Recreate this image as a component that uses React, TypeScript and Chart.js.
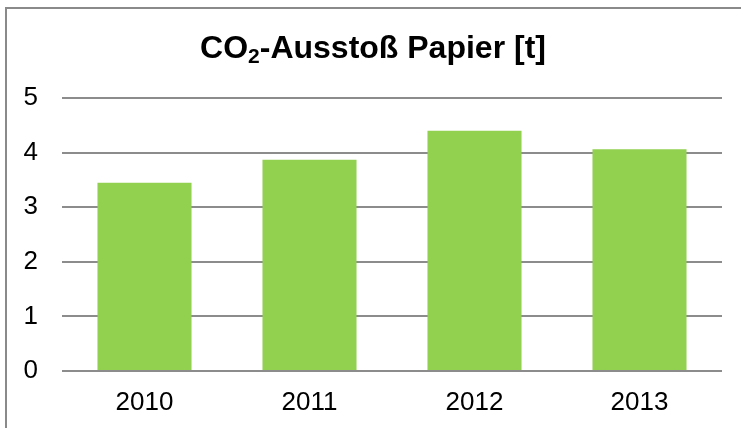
import React, { useEffect, useRef } from "react";
import { Chart, registerables } from "chart.js";

Chart.register(...registerables);

const categories = ["2010", "2011", "2012", "2013"];
const values = [3.45, 3.87, 4.4, 4.06];
const yTicks = [0, 1, 2, 3, 4, 5];
const titleMain = "CO";
const titleSub = "2";
const titleRest = "-Ausstoß Papier [t]";

const FONT = "'Liberation Sans', Arial, sans-serif";

const titlePlugin = {
  id: "subTitle",
  afterDraw(chart: any) {
    const ctx = chart.ctx as CanvasRenderingContext2D;
    ctx.save();
    const big = `bold 32px ${FONT}`;
    const small = `bold 21px ${FONT}`;
    ctx.font = big;
    const w1 = ctx.measureText(titleMain).width;
    const w3 = ctx.measureText(titleRest).width;
    ctx.font = small;
    const w2 = ctx.measureText(titleSub).width;
    const total = w1 + w2 + w3;
    let x = 373 - total / 2;
    const baseY = 58;
    ctx.fillStyle = "#000";
    ctx.textBaseline = "alphabetic";
    ctx.textAlign = "left";
    ctx.font = big;
    ctx.fillText(titleMain, x, baseY);
    x += w1;
    ctx.font = small;
    ctx.fillText(titleSub, x, baseY + 5);
    x += w2;
    ctx.font = big;
    ctx.fillText(titleRest, x, baseY);
    ctx.restore();
  },
};

export default function App() {
  const ref = useRef<HTMLCanvasElement | null>(null);
  useEffect(() => {
    if (!ref.current) return;
    const chart = new Chart(ref.current, {
      type: "bar",
      data: {
        labels: categories,
        datasets: [
          {
            data: values,
            backgroundColor: "#92D050",
            borderWidth: 0,
            categoryPercentage: 1,
            barPercentage: 0.57,
          },
        ],
      },
      options: {
        animation: false,
        responsive: false,
        maintainAspectRatio: false,
        layout: { padding: { top: 98, right: 19, bottom: 0, left: 0 } },
        plugins: {
          legend: { display: false },
          title: { display: false },
          tooltip: { enabled: false },
        },
        scales: {
          x: {
            grid: { display: false, drawTicks: false },
            border: { display: false },
            ticks: {
              color: "#000",
              font: { family: FONT, size: 26 },
              padding: 16,
              maxRotation: 0,
            },
            afterFit(scale: any) {
              scale.height = 57;
            },
          },
          y: {
            min: 0,
            max: 5,
            afterBuildTicks(scale: any) {
              scale.ticks = yTicks.map((v) => ({ value: v }));
            },
            grid: { color: "#8c8c8c", lineWidth: 2, drawTicks: false },
            border: { display: false },
            ticks: {
              color: "#000",
              font: { family: FONT, size: 26 },
              padding: 24,
            },
            afterFit(scale: any) {
              scale.width = 62;
            },
          },
        },
      },
      plugins: [titlePlugin],
    });
    return () => chart.destroy();
  }, []);

  return (
    <div style={{ position: "fixed", left: 0, top: 0, width: 741, height: 428, background: "#fff", overflow: "hidden" }}>
      <div
        style={{
          position: "absolute",
          left: 5,
          top: 7,
          width: 800,
          height: 500,
          borderLeft: "2px solid #8a8a8a",
          borderTop: "2px solid #8a8a8a",
          boxSizing: "border-box",
        }}
      />
      <canvas ref={ref} width={741} height={428} style={{ position: "absolute", left: 0, top: 0, width: 741, height: 428 }} />
    </div>
  );
}
